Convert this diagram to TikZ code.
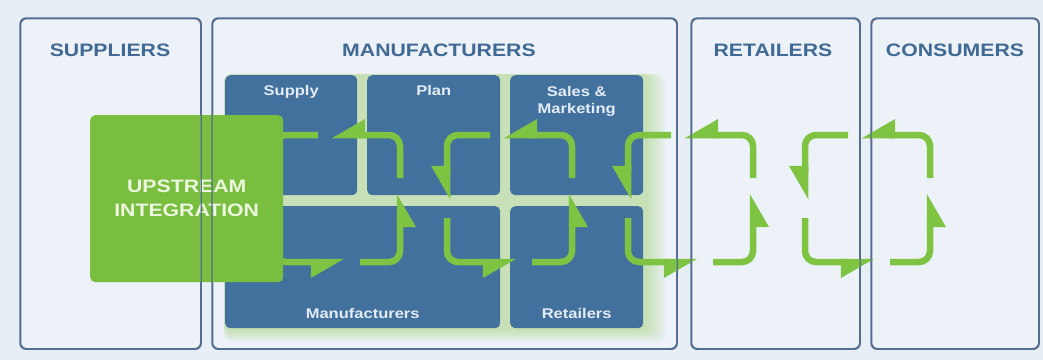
\documentclass[tikz,border=0pt]{standalone}
\usepackage{fontspec}
\setmainfont{Liberation Sans}[FakeStretch=1.18]
\usetikzlibrary{arrows.meta}
\definecolor{pagetint}{RGB}{231,238,245}
\definecolor{panelfill}{RGB}{236,242,248}
\definecolor{paneledge}{RGB}{86,110,142}
\definecolor{headblue}{RGB}{64,105,148}
\definecolor{unitblue}{RGB}{66,113,158}
\definecolor{unittext}{RGB}{228,236,245}
\definecolor{leafgreen}{RGB}{122,190,64}
\definecolor{leaftext}{RGB}{236,247,224}
\definecolor{loopgreen}{RGB}{126,195,66}
\definecolor{glowgreen}{RGB}{160,210,110}
\tikzset{
	panel/.style={fill=panelfill, draw=paneledge, line width=1.3pt, rounded corners=6pt, anchor=north west, inner sep=0pt, minimum height=330pt},
	paneltitle/.style={anchor=base, text=headblue, font=\fontsize{18}{20}\selectfont\bfseries},
	unit/.style={fill=unitblue, rounded corners=5pt, anchor=north west, inner sep=0pt},
	unitname/.style={anchor=base, text=unittext, font=\fontsize{14}{17}\selectfont\bfseries},
	upstream/.style={fill=leafgreen, rounded corners=5pt, anchor=north west, inner sep=0pt, minimum width=193pt, minimum height=167pt, text=leaftext, align=center, font=\fontsize{18}{24}\selectfont\bfseries},
	cyclearrow/.style={draw=loopgreen, line width=6.5pt, rounded corners=11pt, -{Triangle[harpoon, swap, length=28pt, width=30pt]}},
}
\begin{document}
\begin{tikzpicture}[x=1pt, y=-1pt]
	\fill[pagetint] (0,0) rectangle (1043,360);
	\node[panel, minimum width=180pt] (suppliers) at (20,18) {};
	\node[panel, minimum width=464pt] (manufacturers) at (212,18) {};
	\node[panel, minimum width=168pt] (retailers) at (691,18) {};
	\node[panel, minimum width=167pt] (consumers) at (871,18) {};
	\node[paneltitle] (supplierstitle) at (110,56) {SUPPLIERS};
	\node[paneltitle] (manufacturerstitle) at (439,56) {MANUFACTURERS};
	\node[paneltitle] (retailerstitle) at (773,56) {RETAILERS};
	\node[paneltitle] (consumerstitle) at (955,56) {CONSUMERS};

	\foreach \g in {1,...,8}
		\fill[glowgreen, opacity=0.07, rounded corners=8pt] (224,74) rectangle ({645+2.5*\g},{329+1.6*\g});

	\node[unit, minimum width=132pt, minimum height=120pt] (supplyunit) at (225,75) {};
	\node[unit, minimum width=133pt, minimum height=120pt] (planunit) at (367,75) {};
	\node[unit, minimum width=133pt, minimum height=120pt] (salesunit) at (510,75) {};
	\node[unit, minimum width=275pt, minimum height=122pt] (makeunit) at (225,206) {};
	\node[unit, minimum width=133pt, minimum height=122pt] (retailunit) at (510,206) {};
	\node[unitname] (supplyname) at ([yshift=-20pt]supplyunit.north) {Supply};
	\node[unitname] (planname) at ([yshift=-20pt]planunit.north) {Plan};
	\node[unitname, anchor=center, align=center] (salesname) at ([yshift=-26pt]salesunit.north) {Sales \&\\Marketing};
	\node[unitname] (makename) at ([yshift=10pt]makeunit.south) {Manufacturers};
	\node[unitname] (retailname) at ([yshift=10pt]retailunit.south) {Retailers};

	\foreach \xl [evaluate=\xl as \xr using \xl+125] in {275,447,628,805} {
		\draw[cyclearrow] (\xr,178) |- (\xl+56,135);
		\draw[cyclearrow] (\xl+43,135) -| (\xl,200);
		\draw[cyclearrow] (\xl,218) |- (\xl+70,262);
		\draw[cyclearrow] (\xl+85,262) -| (\xr,193);
	}

	\node[upstream] (upstream) at (90,115) {UPSTREAM\\INTEGRATION};

	\foreach \p in {suppliers,manufacturers,retailers,consumers}
		\draw[paneledge, line width=1.3pt, rounded corners=6pt] (\p.north west) rectangle (\p.south east);
\end{tikzpicture}
\end{document}
